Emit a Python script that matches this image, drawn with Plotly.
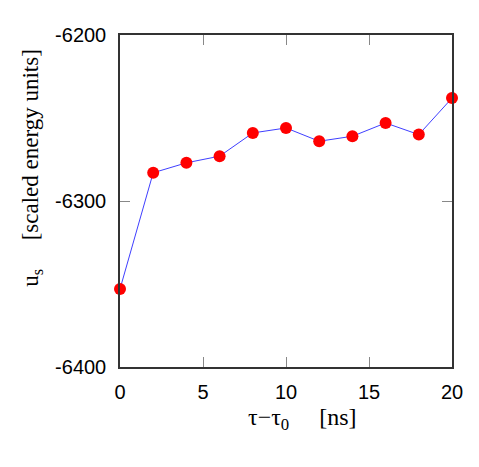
import plotly.graph_objects as go

# Data
tau = [0, 2, 4, 6, 8, 10, 12, 14, 16, 18, 20]
u_s = [-6353, -6283, -6277, -6273, -6259, -6256, -6264, -6261, -6253, -6260, -6238]

x_ticks = [0, 5, 10, 15, 20]
y_ticks = [-6400, -6300, -6200]
y_tick_text = ["-6400", "-6300", "-6200"]

fig = go.Figure()
fig.add_trace(go.Scatter(
    x=tau, y=u_s, mode="lines+markers",
    line=dict(color="#3f3fff", width=1),
    marker=dict(color="#ff0000", size=12),
    cliponaxis=False,
))

axis_common = dict(
    showgrid=False, zeroline=False,
    showline=True, linecolor="#333333", linewidth=1.5, mirror="ticks",
    ticks="inside", ticklen=10, tickcolor="#888888", tickwidth=1.2,
    tickfont=dict(family="Liberation Sans", size=20, color="black"),
)

fig.update_xaxes(range=[0, 20], tickvals=x_ticks, ticklabelstandoff=6, **axis_common)
fig.update_yaxes(range=[-6400, -6200], tickvals=y_ticks, ticktext=y_tick_text,
                 ticklabelstandoff=8, **axis_common)

# axis labels (gnuplot style)
fig.add_annotation(text="τ−τ<sub>0</sub>     [ns]", xref="paper", yref="paper",
                   x=0.55, y=-0.105, xanchor="center", yanchor="top", showarrow=False,
                   font=dict(family="Liberation Serif", size=24, color="black"))
fig.add_annotation(text="u<sub>s</sub>     [scaled energy units]", xref="paper", yref="paper",
                   x=-0.265, y=0.6, xanchor="center", yanchor="middle", showarrow=False,
                   textangle=-90,
                   font=dict(family="Liberation Serif", size=23, color="black"))

# page body has an 8px margin, so shift the plot area back
fig.update_layout(
    width=479, height=467,
    margin=dict(l=112, r=35, t=27, b=108),
    plot_bgcolor="white", paper_bgcolor="white",
    showlegend=False,
)

fig.write_html("out.html")
